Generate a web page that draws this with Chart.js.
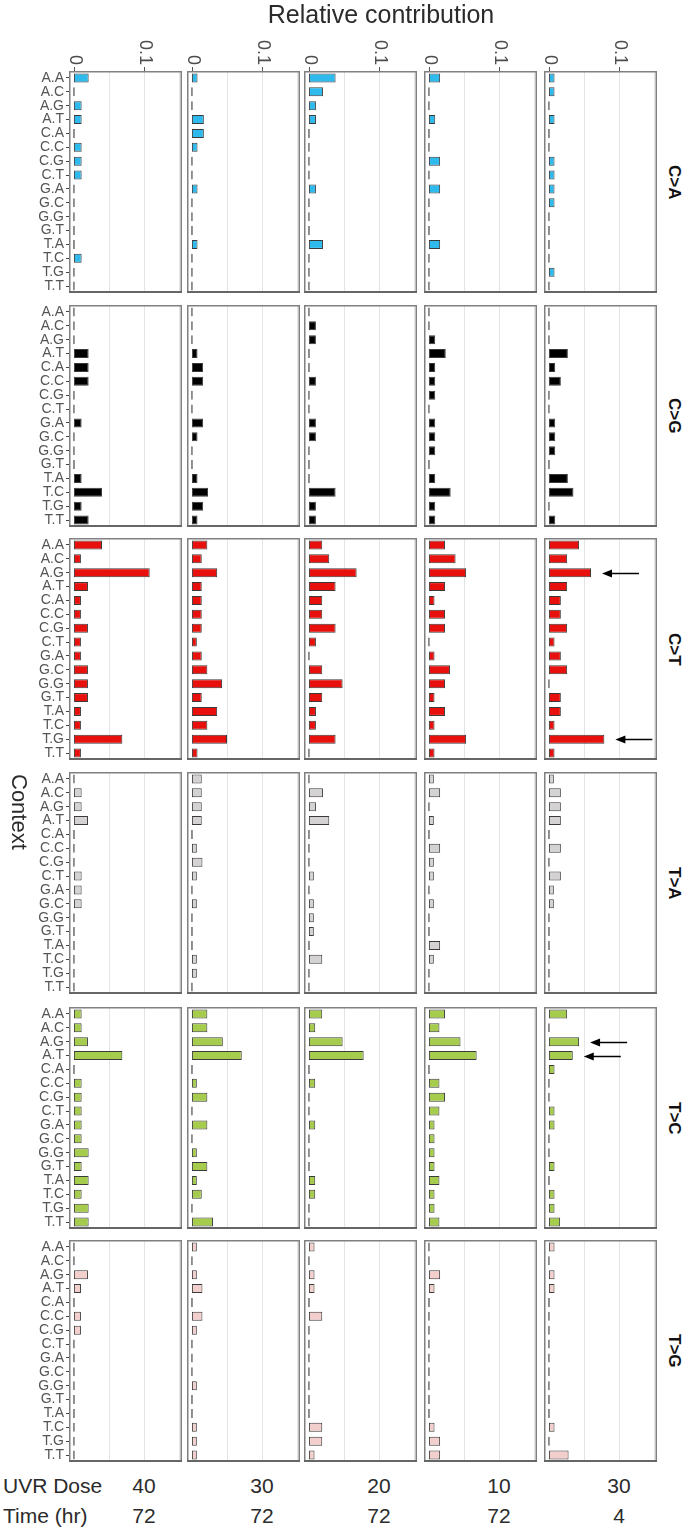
<!DOCTYPE html>
<html>
<head>
<meta charset="utf-8">
<script src="https://cdn.jsdelivr.net/npm/chart.js@4.4.0/dist/chart.umd.min.js"></script>
<style>
  body { margin: 0; background: #fff; font-family: "Liberation Sans", Arial, sans-serif; }
  #page { position: relative; width: 685px; height: 1534px; overflow: hidden; }
  canvas { position: absolute; }
  .txt { position: absolute; color: #2b2b2b; white-space: nowrap; }
  .vert { writing-mode: vertical-rl; text-align: center; }
</style>
</head>
<body>
<div id="page"></div>
<script>
// 96-profile style plot: 6 mutation types (rows) x 5 samples (columns), 16 contexts each

const contexts = ['A.A', 'A.C', 'A.G', 'A.T', 'C.A', 'C.C', 'C.G', 'C.T',
                  'G.A', 'G.C', 'G.G', 'G.T', 'T.A', 'T.C', 'T.G', 'T.T'];
const mutationTypes = ['C>A', 'C>G', 'C>T', 'T>A', 'T>C', 'T>G'];
const typeColors = ['#2EBAED', '#000000', '#E8100C', '#D4D2D2', '#A6CC4E', '#F2CFCC'];
const uvrDose = ['40', '30', '20', '10', '30'];
const timeHr = ['72', '72', '72', '72', '4'];
const xTicks = [0, 0.1];
const gridValues = [0.05, 0.1, 0.15];

// relative contribution per sample column (AA ... TT)
const caValues = [
  [0.021, 0, 0.011, 0.011, 0, 0.011, 0.011, 0.011, 0, 0, 0, 0, 0, 0.011, 0, 0],
  [0.008, 0, 0, 0.017, 0.017, 0.008, 0, 0, 0.008, 0, 0, 0, 0.008, 0, 0, 0],
  [0.038, 0.020, 0.010, 0.010, 0, 0, 0, 0, 0.010, 0, 0, 0, 0.020, 0, 0, 0],
  [0.016, 0, 0, 0.009, 0, 0, 0.016, 0, 0.016, 0, 0, 0, 0.016, 0, 0, 0],
  [0.008, 0.008, 0, 0.008, 0, 0, 0.008, 0.008, 0.008, 0.008, 0, 0, 0, 0, 0.008, 0]
];
const cgValues = [
  [0, 0, 0, 0.021, 0.021, 0.021, 0, 0, 0.011, 0, 0, 0, 0.011, 0.040, 0.011, 0.021],
  [0, 0, 0, 0.008, 0.016, 0.016, 0, 0, 0.016, 0.008, 0, 0, 0.008, 0.023, 0.016, 0.008],
  [0, 0.010, 0.010, 0, 0, 0.010, 0, 0, 0.010, 0.010, 0, 0, 0, 0.038, 0.010, 0.010],
  [0, 0, 0.009, 0.024, 0.009, 0.009, 0.009, 0, 0.009, 0.009, 0.009, 0, 0.009, 0.031, 0.009, 0.009],
  [0, 0, 0, 0.027, 0.009, 0.017, 0, 0, 0.009, 0.009, 0.009, 0, 0.027, 0.035, 0, 0.009]
];
const ctValues = [
  [0.040, 0.010, 0.108, 0.020, 0.010, 0.010, 0.020, 0.010, 0.010, 0.020, 0.020, 0.020, 0.010, 0.010, 0.069, 0.010],
  [0.022, 0.014, 0.036, 0.014, 0.014, 0.014, 0.014, 0.007, 0.014, 0.022, 0.043, 0.014, 0.036, 0.022, 0.050, 0.008],
  [0.019, 0.029, 0.068, 0.038, 0.019, 0.019, 0.038, 0.010, 0, 0.019, 0.048, 0.019, 0.010, 0.010, 0.038, 0],
  [0.023, 0.038, 0.053, 0.023, 0.008, 0.023, 0.023, 0, 0.008, 0.030, 0.023, 0.008, 0.023, 0.008, 0.053, 0.008],
  [0.043, 0.026, 0.060, 0.026, 0.017, 0.017, 0.026, 0.008, 0.017, 0.026, 0, 0.017, 0.017, 0.008, 0.079, 0.008]
];
const taValues = [
  [0, 0.011, 0.011, 0.020, 0, 0, 0, 0.011, 0.011, 0.011, 0, 0, 0, 0, 0, 0],
  [0.014, 0.014, 0.014, 0.014, 0, 0.007, 0.015, 0.007, 0, 0.007, 0, 0, 0, 0.007, 0.007, 0],
  [0, 0.020, 0.010, 0.029, 0, 0, 0, 0.007, 0, 0.007, 0.007, 0.007, 0, 0.019, 0, 0],
  [0.007, 0.016, 0, 0.007, 0, 0.016, 0.007, 0.007, 0, 0.007, 0, 0, 0.016, 0.007, 0, 0],
  [0.007, 0.017, 0.017, 0.017, 0, 0.017, 0, 0.017, 0.007, 0.007, 0, 0, 0, 0, 0, 0]
];
const tcValues = [
  [0.011, 0.011, 0.020, 0.069, 0, 0.011, 0.011, 0.011, 0.011, 0.011, 0.021, 0.011, 0.021, 0.011, 0.021, 0.021],
  [0.022, 0.022, 0.044, 0.071, 0, 0.007, 0.022, 0, 0.022, 0, 0.007, 0.022, 0.007, 0.014, 0, 0.030],
  [0.019, 0.009, 0.048, 0.078, 0, 0.009, 0, 0, 0.009, 0, 0, 0, 0.009, 0.009, 0, 0],
  [0.023, 0.015, 0.045, 0.068, 0, 0.015, 0.023, 0.015, 0.008, 0.008, 0.008, 0.008, 0.015, 0.008, 0.008, 0.015],
  [0.026, 0, 0.043, 0.034, 0.008, 0, 0, 0.008, 0.008, 0, 0, 0.008, 0, 0.008, 0.008, 0.016]
];
const tgValues = [
  [0, 0, 0.020, 0.010, 0, 0.010, 0.010, 0, 0, 0, 0, 0, 0, 0, 0, 0],
  [0.007, 0, 0.007, 0.015, 0, 0.015, 0.007, 0, 0, 0, 0.007, 0, 0, 0.007, 0.007, 0.007],
  [0.008, 0, 0.008, 0.008, 0, 0.019, 0, 0, 0, 0, 0, 0, 0, 0.019, 0.019, 0.008],
  [0, 0, 0.016, 0.008, 0, 0, 0, 0, 0, 0, 0, 0, 0, 0.008, 0.016, 0.016],
  [0.008, 0, 0.008, 0.008, 0, 0, 0, 0, 0, 0, 0, 0, 0, 0.008, 0, 0.028]
];
const valuesByType = [caValues, cgValues, ctValues, taValues, tcValues, tgValues];

// highlighted contexts (arrows) in the last sample
const arrowMarks = [
  { type: 'C>T', sample: 4, context: 'A.G' },
  { type: 'C>T', sample: 4, context: 'T.G' },
  { type: 'T>C', sample: 4, context: 'A.G' },
  { type: 'T>C', sample: 4, context: 'A.T' }
];

// layout
const colLeft = [69, 187, 304, 424, 544];
const rowTop = [71, 305, 538, 772, 1007, 1240];
const panelW = 113, panelH = 222;
const axisW = 69, topPad = 46;
const xMin = -0.007, xMax = 0.154;
const FONT = '"Liberation Sans", Arial, sans-serif';

const page = document.getElementById('page');

// draws grid, panel frame, top axis and arrows for each facet
const panelDecor = {
  id: 'panelDecor',
  beforeDatasetsDraw(chart) {
    const { ctx, chartArea: a, scales: { x } } = chart;
    ctx.save();
    ctx.strokeStyle = '#e4e4e4';
    ctx.lineWidth = 1;
    gridValues.forEach(v => {
      const px = Math.round(x.getPixelForValue(v)) + 0.5;
      if (px >= a.right - 1) return;
      ctx.beginPath();
      ctx.moveTo(px, a.top);
      ctx.lineTo(px, a.bottom);
      ctx.stroke();
    });
    ctx.restore();
  },
  afterDatasetsDraw(chart, args, opts) {
    const { ctx, chartArea: a, scales: { x, y } } = chart;
    ctx.save();
    ctx.strokeStyle = '#808080';
    ctx.lineWidth = 1.5;
    ctx.strokeRect(a.left + 0.75, a.top + 0.75, a.right - a.left - 1.5, a.bottom - a.top - 1.5);
    ctx.strokeStyle = '#666';
    ctx.lineWidth = 2;
    ctx.beginPath();
    ctx.moveTo(a.left, a.bottom - 1);
    ctx.lineTo(a.right, a.bottom - 1);
    ctx.stroke();

    if (opts.top) {
      ctx.strokeStyle = '#555';
      ctx.lineWidth = 1;
      ctx.fillStyle = '#4d4d4d';
      ctx.font = '18px ' + FONT;
      ctx.textAlign = 'right';
      ctx.textBaseline = 'middle';
      xTicks.forEach(v => {
        const px = Math.round(x.getPixelForValue(v)) + 0.5;
        ctx.beginPath();
        ctx.moveTo(px, a.top - 4);
        ctx.lineTo(px, a.top);
        ctx.stroke();
        ctx.save();
        ctx.translate(px, a.top - 6);
        ctx.rotate(Math.PI / 2);
        ctx.fillText(String(v), 0, 0);
        ctx.restore();
      });
    }

    (opts.arrows || []).forEach(m => {
      const idx = contexts.indexOf(m.context);
      const yy = Math.round(y.getPixelForValue(idx)) + 0.5;
      const tip = x.getPixelForValue(m.value) + 11;
      ctx.strokeStyle = '#000';
      ctx.fillStyle = '#000';
      ctx.lineWidth = 1.5;
      ctx.beginPath();
      ctx.moveTo(tip + 37, yy);
      ctx.lineTo(tip + 6, yy);
      ctx.stroke();
      ctx.beginPath();
      ctx.moveTo(tip, yy);
      ctx.lineTo(tip + 10, yy - 4);
      ctx.lineTo(tip + 10, yy + 4);
      ctx.closePath();
      ctx.fill();
    });
    ctx.restore();
  }
};

function fixAxisWidth(scale) {
  scale.width = axisW;
  scale.paddingTop = 0;
  scale.paddingBottom = 0;
}

function makePanel(r, c) {
  const firstCol = c === 0;
  const padLeft = firstCol ? axisW : 0;
  const padTop = r === 0 ? topPad : 0;
  const w = padLeft + panelW;
  const h = padTop + panelH;
  const canvas = document.createElement('canvas');
  canvas.width = w;
  canvas.height = h;
  canvas.style.width = w + 'px';
  canvas.style.height = h + 'px';
  canvas.style.left = (firstCol ? 0 : colLeft[c]) + 'px';
  canvas.style.top = (rowTop[r] - padTop) + 'px';
  page.appendChild(canvas);

  const values = valuesByType[r][c];
  const arrows = arrowMarks
    .filter(m => m.type === mutationTypes[r] && m.sample === c)
    .map(m => ({ context: m.context, value: values[contexts.indexOf(m.context)] }));

  const yScale = {
    type: 'category',
    offset: true,
    display: firstCol,
    border: { display: false },
    grid: {
      display: true,
      offset: false,
      drawOnChartArea: false,
      drawTicks: true,
      tickLength: 3,
      color: '#444'
    },
    ticks: {
      autoSkip: false,
      padding: 2,
      color: '#555',
      font: { family: FONT, size: 14 }
    }
  };
  if (firstCol) yScale.afterFit = fixAxisWidth;

  new Chart(canvas, {
    type: 'bar',
    data: {
      labels: contexts,
      datasets: [{
        data: values,
        backgroundColor: typeColors[r],
        // zero-height bars show only as a grey stub, like the reference
        borderColor: ctx => (ctx.raw === 0 ? '#8a8a8a' : '#3a3a3a'),
        borderWidth: 1,
        borderSkipped: false,
        barPercentage: 0.64,
        categoryPercentage: 1,
        minBarLength: 2
      }]
    },
    options: {
      indexAxis: 'y',
      responsive: false,
      animation: false,
      devicePixelRatio: 1,
      layout: { padding: { top: padTop, left: 0, right: 0, bottom: 0 } },
      plugins: {
        legend: { display: false },
        tooltip: { enabled: false },
        panelDecor: { top: r === 0, arrows: arrows }
      },
      scales: {
        x: { type: 'linear', min: xMin, max: xMax, display: false },
        y: yScale
      }
    },
    plugins: [panelDecor]
  });
}

for (let r = 0; r < mutationTypes.length; r++) {
  for (let c = 0; c < colLeft.length; c++) {
    makePanel(r, c);
  }
}

function addText(text, style, cls) {
  const d = document.createElement('div');
  d.className = 'txt' + (cls ? ' ' + cls : '');
  d.textContent = text;
  Object.assign(d.style, style);
  page.appendChild(d);
  return d;
}

// titles
addText('Relative contribution', { left: '181px', width: '400px', top: '0px', textAlign: 'center', fontSize: '25px' });
addText('Context', { left: '6px', top: '774px', fontSize: '22px' }, 'vert');

// facet strip labels
mutationTypes.forEach((t, r) => {
  addText(t, {
    left: '662px', top: rowTop[r] + 'px', height: panelH + 'px', width: '22px',
    fontSize: '17px', fontWeight: 'bold', color: '#111'
  }, 'vert');
});

// sample annotations
addText('UVR Dose', { left: '3px', top: '1474px', fontSize: '21px' });
addText('Time (hr)', { left: '3px', top: '1504px', fontSize: '21px' });
colLeft.forEach((l, c) => {
  addText(uvrDose[c], { left: (l + 55) + 'px', width: '40px', top: '1474px', textAlign: 'center', fontSize: '21px' });
  addText(timeHr[c], { left: (l + 55) + 'px', width: '40px', top: '1504px', textAlign: 'center', fontSize: '21px' });
});
</script>
</body>
</html>
